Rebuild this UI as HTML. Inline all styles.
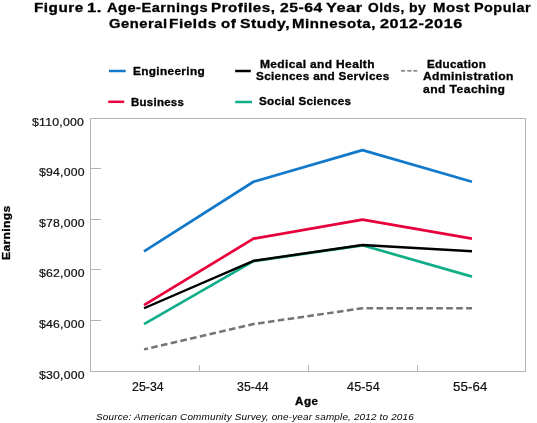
<!DOCTYPE html>
<html><head><meta charset="utf-8">
<style>
html,body{margin:0;padding:0;background:#fff;}
body{width:537px;height:423px;position:relative;overflow:hidden;font-family:"Liberation Sans",sans-serif;color:#000;}
.t{position:absolute;white-space:nowrap;line-height:1;transform-origin:0 0;filter:grayscale(1);}
svg{position:absolute;left:0;top:0;}
</style></head><body>
<svg width="537" height="423" viewBox="0 0 537 423">
  <rect x="90.5" y="118.5" width="435" height="253" fill="none" stroke="#b4b4b4" stroke-width="1"/>
  <g stroke="#b4b4b4" stroke-width="1">
    <line x1="90" y1="168.5" x2="101" y2="168.5"/>
    <line x1="90" y1="219.5" x2="101" y2="219.5"/>
    <line x1="90" y1="269.5" x2="101" y2="269.5"/>
    <line x1="90" y1="320.5" x2="101" y2="320.5"/>
    <line x1="199.5" y1="365" x2="199.5" y2="371"/>
    <line x1="308.5" y1="365" x2="308.5" y2="371"/>
    <line x1="417.5" y1="365" x2="417.5" y2="371"/>
  </g>
  <g fill="none" stroke-linejoin="round" stroke-linecap="butt">
    <polyline points="144,251.32 253.5,181.75 362.5,150.12 472,181.75" stroke="#137acb" stroke-width="2.7"/>
    <polyline points="144,305.09 253.5,238.67 362.5,219.70 472,238.67" stroke="#e8003d" stroke-width="2.7"/>
    <polyline points="144,324.06 253.5,261.1 362.5,245.3 472,276.62" stroke="#10ad88" stroke-width="2.7"/>
    <polyline points="144,308.25 253.5,260.81 362.5,245.00 472,251.32" stroke="#000000" stroke-width="2.4"/>
    <polyline points="144,349.36 253.5,324.06 362.5,308.25 472,308.25" stroke="#747474" stroke-width="2.5" stroke-dasharray="6.6 3.36" stroke-dashoffset="2.5" stroke-linecap="butt"/>
  </g>
  <g stroke-width="2.5">
    <line x1="109" y1="71" x2="125.7" y2="71" stroke="#137acb"/>
    <line x1="108.2" y1="101.8" x2="124.2" y2="101.8" stroke="#e8003d"/>
    <line x1="235.2" y1="71" x2="250.8" y2="71" stroke="#000"/>
    <line x1="235.2" y1="102" x2="252" y2="102" stroke="#10ad88"/>
  </g>
  <g stroke="#8a8a8a" stroke-width="1.8">
    <line x1="401" y1="70.8" x2="405" y2="70.8"/>
    <line x1="407.3" y1="70.8" x2="411.5" y2="70.8"/>
    <line x1="413.4" y1="70.8" x2="417.2" y2="70.8"/>
  </g>
</svg>
<div class="t" id="eng" style="left:133.00px;top:67.00px;font-size:10.3px;color:#000;font-weight:bold;-webkit-text-stroke:0.3px #000;letter-spacing:0.300px;transform:scaleX(1.1475);">Engineering</div>
<div class="t" id="bus" style="left:131.00px;top:98.00px;font-size:10.3px;color:#000;font-weight:bold;-webkit-text-stroke:0.3px #000;letter-spacing:0.250px;transform:scaleX(1.1123);">Business</div>
<div class="t" id="med1" style="left:260.00px;top:60.00px;font-size:10.3px;color:#000;font-weight:bold;-webkit-text-stroke:0.3px #000;letter-spacing:0.309px;transform:scaleX(1.1620);">Medical and Health</div>
<div class="t" id="med2" style="left:256.00px;top:72.00px;font-size:10.3px;color:#000;font-weight:bold;-webkit-text-stroke:0.3px #000;letter-spacing:0.275px;transform:scaleX(1.1429);">Sciences and Services</div>
<div class="t" id="soc" style="left:259.00px;top:97.00px;font-size:10.3px;color:#000;font-weight:bold;-webkit-text-stroke:0.3px #000;letter-spacing:0.250px;transform:scaleX(1.1304);">Social Sciences</div>
<div class="t" id="edu1" style="left:427.00px;top:60.00px;font-size:10.3px;color:#000;font-weight:bold;-webkit-text-stroke:0.3px #000;letter-spacing:0.281px;transform:scaleX(1.1317);">Education</div>
<div class="t" id="edu2" style="left:423.00px;top:72.00px;font-size:10.3px;color:#000;font-weight:bold;-webkit-text-stroke:0.3px #000;letter-spacing:0.346px;transform:scaleX(1.1714);">Administration</div>
<div class="t" id="edu3" style="left:423.00px;top:85.00px;font-size:10.3px;color:#000;font-weight:bold;-webkit-text-stroke:0.3px #000;letter-spacing:0.364px;transform:scaleX(1.1765);">and Teaching</div>
<div class="t" id="y110" style="left:32.00px;top:117.00px;font-size:11.2px;color:#111;-webkit-text-stroke:0.22px #111;letter-spacing:0.214px;transform:scaleX(1.0968);">$110,000</div>
<div class="t" id="y94" style="left:39.00px;top:167.00px;font-size:11.2px;color:#111;-webkit-text-stroke:0.22px #111;letter-spacing:0.208px;transform:scaleX(1.0932);">$94,000</div>
<div class="t" id="y78" style="left:39.00px;top:218.00px;font-size:11.2px;color:#111;-webkit-text-stroke:0.22px #111;letter-spacing:0.208px;transform:scaleX(1.0932);">$78,000</div>
<div class="t" id="y62" style="left:39.00px;top:268.00px;font-size:11.2px;color:#111;-webkit-text-stroke:0.22px #111;letter-spacing:0.208px;transform:scaleX(1.0932);">$62,000</div>
<div class="t" id="y46" style="left:39.00px;top:319.00px;font-size:11.2px;color:#111;-webkit-text-stroke:0.22px #111;letter-spacing:0.208px;transform:scaleX(1.0932);">$46,000</div>
<div class="t" id="y30" style="left:39.00px;top:370.00px;font-size:11.2px;color:#111;-webkit-text-stroke:0.22px #111;letter-spacing:0.208px;transform:scaleX(1.0932);">$30,000</div>
<div class="t" id="x1" style="left:132.00px;top:381.00px;font-size:12px;color:#111;-webkit-text-stroke:0.22px #111;letter-spacing:0.062px;transform:scaleX(1.0248);">25-34</div>
<div class="t" id="x2" style="left:237.00px;top:381.00px;font-size:12px;color:#111;-webkit-text-stroke:0.22px #111;letter-spacing:0.062px;transform:scaleX(1.0248);">35-44</div>
<div class="t" id="x3" style="left:347.00px;top:381.00px;font-size:12px;color:#111;-webkit-text-stroke:0.22px #111;letter-spacing:0.125px;transform:scaleX(1.0492);">45-54</div>
<div class="t" id="x4" style="left:453.00px;top:381.00px;font-size:12px;color:#111;-webkit-text-stroke:0.22px #111;letter-spacing:0.125px;transform:scaleX(1.1016);">55-64</div>
<div class="t" id="age" style="left:295.00px;top:397.00px;font-size:10.3px;color:#000;font-weight:bold;-webkit-text-stroke:0.3px #000;letter-spacing:0.500px;transform:scaleX(1.1289);">Age</div>
<div class="t" id="earn" style="left:1.00px;top:260.00px;font-size:11px;color:#000;font-weight:bold;-webkit-text-stroke:0.3px #000;letter-spacing:0.250px;transform:rotate(-90deg) scaleX(1.1099);">Earnings</div>
<div class="t" id="src" style="left:96.00px;top:413.00px;font-size:9px;color:#000;font-style:italic;letter-spacing:0.151px;transform:scaleX(1.1026);">Source: American Community Survey, one-year sample, 2012 to 2016</div>
<div class="t" style="left:34.00px;top:2.00px;font-size:12.5px;color:#000;font-weight:bold;-webkit-text-stroke:0.3px #000;letter-spacing:0.414px;transform:scaleX(1.2210);">Figure</div>
<div class="t" style="left:87.00px;top:2.00px;font-size:12.5px;color:#000;font-weight:bold;-webkit-text-stroke:0.3px #000;letter-spacing:0.414px;transform:scaleX(1.3238);">1.</div>
<div class="t" style="left:107.00px;top:2.00px;font-size:12.5px;color:#000;font-weight:bold;-webkit-text-stroke:0.3px #000;letter-spacing:0.414px;transform:scaleX(1.1714);">Age-Earnings</div>
<div class="t" style="left:211.00px;top:2.00px;font-size:12.5px;color:#000;font-weight:bold;-webkit-text-stroke:0.3px #000;letter-spacing:0.414px;transform:scaleX(1.2150);">Profiles,</div>
<div class="t" style="left:280.00px;top:2.00px;font-size:12.5px;color:#000;font-weight:bold;-webkit-text-stroke:0.3px #000;letter-spacing:0.414px;transform:scaleX(1.2548);">25-64</div>
<div class="t" style="left:326.00px;top:2.00px;font-size:12.5px;color:#000;font-weight:bold;-webkit-text-stroke:0.3px #000;letter-spacing:0.414px;transform:scaleX(1.3071);">Year</div>
<div class="t" style="left:368.00px;top:2.00px;font-size:12.5px;color:#000;font-weight:bold;-webkit-text-stroke:0.3px #000;letter-spacing:0.414px;transform:scaleX(1.1007);">Olds,</div>
<div class="t" style="left:409.00px;top:2.00px;font-size:12.5px;color:#000;font-weight:bold;-webkit-text-stroke:0.3px #000;letter-spacing:0.414px;transform:scaleX(1.1204);">by</div>
<div class="t" style="left:433.00px;top:2.00px;font-size:12.5px;color:#000;font-weight:bold;-webkit-text-stroke:0.3px #000;letter-spacing:0.414px;transform:scaleX(1.1960);">Most</div>
<div class="t" style="left:474.00px;top:2.00px;font-size:12.5px;color:#000;font-weight:bold;-webkit-text-stroke:0.3px #000;letter-spacing:0.414px;transform:scaleX(1.1531);">Popular</div>
<div class="t" style="left:109.00px;top:18.00px;font-size:12.5px;color:#000;font-weight:bold;-webkit-text-stroke:0.3px #000;letter-spacing:0.449px;transform:scaleX(1.1824);">General</div>
<div class="t" style="left:169.00px;top:18.00px;font-size:12.5px;color:#000;font-weight:bold;-webkit-text-stroke:0.3px #000;letter-spacing:0.449px;transform:scaleX(1.2297);">Fields</div>
<div class="t" style="left:221.00px;top:18.00px;font-size:12.5px;color:#000;font-weight:bold;-webkit-text-stroke:0.3px #000;letter-spacing:0.449px;transform:scaleX(1.2024);">of</div>
<div class="t" style="left:240.00px;top:18.00px;font-size:12.5px;color:#000;font-weight:bold;-webkit-text-stroke:0.3px #000;letter-spacing:0.449px;transform:scaleX(1.2547);">Study,</div>
<div class="t" style="left:292.00px;top:18.00px;font-size:12.5px;color:#000;font-weight:bold;-webkit-text-stroke:0.3px #000;letter-spacing:0.449px;transform:scaleX(1.2024);">Minnesota,</div>
<div class="t" style="left:380.00px;top:18.00px;font-size:12.5px;color:#000;font-weight:bold;-webkit-text-stroke:0.3px #000;letter-spacing:0.449px;transform:scaleX(1.2986);">2012-2016</div>

</body></html>
